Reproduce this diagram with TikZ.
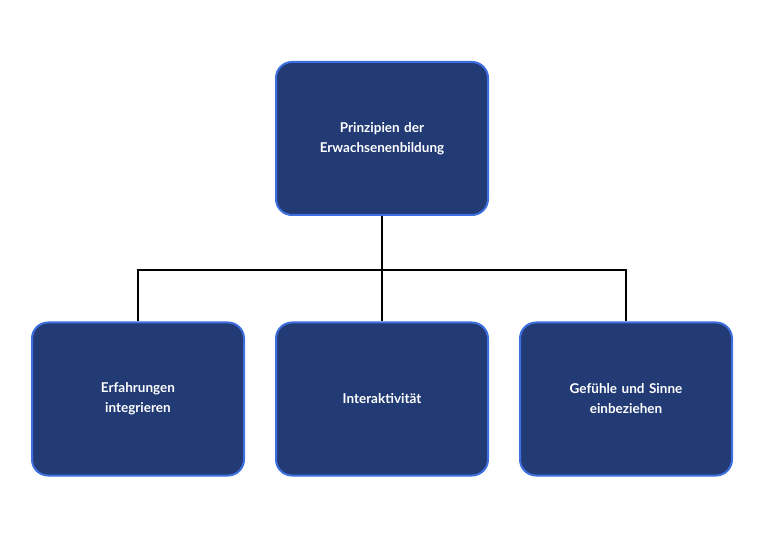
\documentclass[tikz,border=0pt]{standalone}
\usepackage{fontspec}
\setmainfont{Lato}
\usetikzlibrary{positioning}
\definecolor{boxfill}{HTML}{223B74}
\definecolor{boxline}{HTML}{3E6FE0}
\tikzset{
  topic/.style={rectangle, rounded corners=16pt, minimum width=212pt, minimum height=153pt,
    text width=190pt, align=center, fill=boxfill, draw=boxline, line width=2pt,
    text=white, font=\fontsize{13.5}{20}\selectfont\bfseries},
  link/.style={black, line width=1.3pt}
}
\begin{document}
\begin{tikzpicture}[x=1pt, y=-1pt]
  \useasboundingbox (0,0) rectangle (764,540);
  \node (root) [topic] at (382,138.5) {Prinzipien der\\Erwachsenenbildung};
  \node (exp) [topic] at (138,399) {Erfahrungen\\integrieren};
  \node (inter) [topic] at (382,399) {Interaktivität};
  \node (sense) [topic] at (626,399) {Gefühle und Sinne\\einbeziehen};
  \coordinate (hub) at (382,270);
  \draw [link] (root) -- (inter);
  \draw [link] (exp.north) |- (hub) -| (sense.north);
\end{tikzpicture}
\end{document}
